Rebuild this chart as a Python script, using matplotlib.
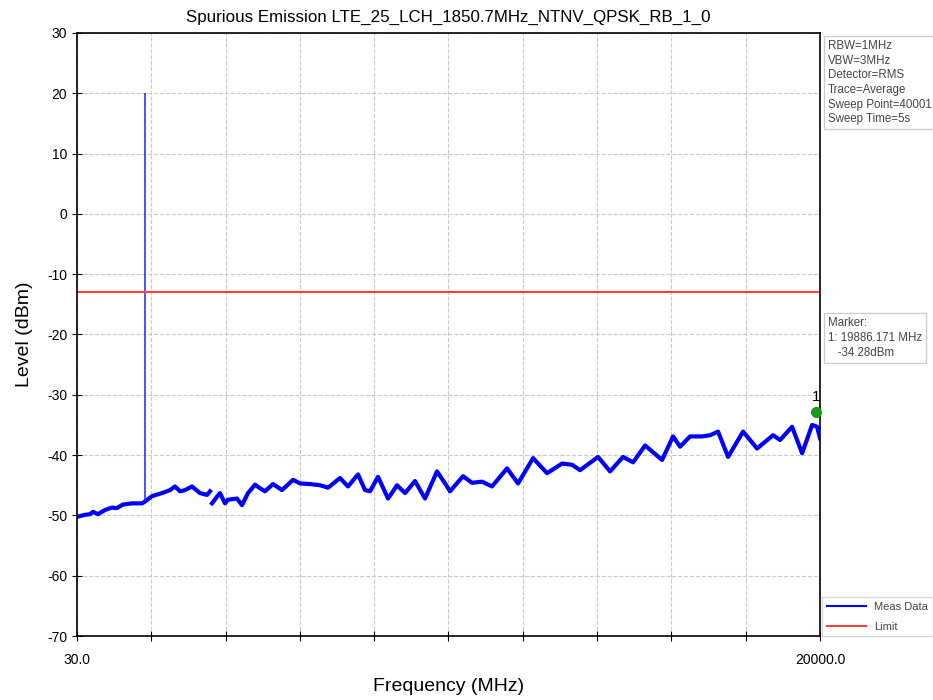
import numpy as np
import matplotlib
matplotlib.use('Agg')
import matplotlib.pyplot as plt
from matplotlib.lines import Line2D

plt.rcParams['font.family'] = ['Liberation Sans', 'DejaVu Sans']
plt.rcParams['axes.unicode_minus'] = False

# trace (MHz, dBm)
freq_mhz = [57, 245, 379, 460, 594, 783, 971, 1097, 1266, 1508, 1777, 1858,
            2046, 2315, 2530, 2664, 2799, 2933, 3121, 3336, 3524, 3605,
            np.nan,
            3659, 3793, 3874, 4008, 4089, 4331, 4465, 4626, 4815, 4949,
            5083, 5298, 5540, 5836, 6024, 6293, 6562, 6777, 7099, 7314,
            7583, 7771, 7906, 8121, 8390, 8632, 8847, 9115, 9384, 9707,
            9976, 10056, 10406, 10648, 10916, 11185, 11588, 11884, 12287, 12664,
            13067, 13336, 13551, 14035, 14357, 14706, 14975, 15298, 15755, 16050,
            16239, 16508, 16830, 17045, 17260, 17529, 17932, 18308, 18738, 18926,
            19249, 19518, 19787, 19921, 20000]
level_dbm = [-50.2, -49.9, -49.8, -49.4, -49.8, -49.1, -48.7, -48.8, -48.2, -48.0, -48.0, -47.7,
             -46.8, -46.3, -45.8, -45.2, -46.0, -45.8, -45.2, -46.3, -46.6, -46.0,
             np.nan,
             -48.0, -46.9, -46.3, -48.0, -47.4, -47.2, -48.3, -46.3, -44.9, -45.5,
             -46.0, -44.8, -45.8, -44.1, -44.7, -44.8, -45.0, -45.4, -43.8, -45.2,
             -43.2, -45.8, -46.0, -43.6, -47.2, -45.0, -46.3, -44.3, -47.2, -42.7,
             -45.2, -46.0, -43.5, -44.6, -44.4, -45.2, -42.2, -44.7, -40.5, -43.0,
             -41.4, -41.6, -42.5, -40.3, -42.7, -40.3, -41.2, -38.4, -40.8, -36.9,
             -38.6, -36.9, -36.9, -36.7, -36.1, -40.3, -36.1, -38.9, -36.7, -37.5,
             -35.3, -39.7, -35.0, -35.3, -37.2]

carrier_freq = 1850.7
carrier_peak = 20.0
carrier_floor = -47.8
limit_dbm = -13.0

marker_freq = 19886.171
marker_level = -34.28
marker_dot_level = -32.8

settings = ["RBW=1MHz", "VBW=3MHz", "Detector=RMS", "Trace=Average",
            "Sweep Point=40001", "Sweep Time=5s"]

f_start, f_stop = 30.0, 20000.0

fig = plt.figure(figsize=(9.33, 7.0), dpi=100)
ax = fig.add_axes([0.0825, 0.0914, 0.7964, 0.8615])

ax.plot(freq_mhz, level_dbm, color='blue', lw=3, solid_joinstyle='round')
ax.vlines(carrier_freq, carrier_floor, carrier_peak, color='#2020ff', lw=1.1)
ax.axhline(limit_dbm, color='#ff4040', lw=1.5)
ax.plot(marker_freq, marker_dot_level, 'o', color='#1a9a1a', ms=7, clip_on=False, zorder=5)
ax.text(marker_freq, marker_dot_level + 1.3, "1", ha='center', va='bottom', fontsize=11)

ax.set_xlim(f_start, f_stop)
ax.set_ylim(-70, 30)
xt = np.linspace(f_start, f_stop, 11)
ax.set_xticks(xt)
ax.set_xticklabels(["30.0"] + [""] * 9 + ["20000.0"])
ax.set_yticks(np.arange(-70, 31, 10))
ax.tick_params(axis='both', labelsize=10, direction='inout', length=7)
ax.tick_params(axis='x', pad=9)
ax.grid(True, ls='--', color='#c8c8c8', lw=0.8)
for s in ax.spines.values():
    s.set_linewidth(1.2)

ax.set_title("Spurious Emission LTE_25_LCH_1850.7MHz_NTNV_QPSK_RB_1_0", fontsize=12.2, pad=8)
ax.set_xlabel("Frequency (MHz)", fontsize=14, labelpad=8)
ax.set_ylabel("Level (dBm)", fontsize=14, labelpad=10)

box = dict(boxstyle='square,pad=0.35', fc='white', ec='#cccccc', lw=1)
fig.text(0.887, 0.943, "\n".join(settings), fontsize=8.3, va='top', ha='left',
         color='#444444', bbox=box, linespacing=1.3)
fig.text(0.887, 0.547, "Marker:\n1: %.3f MHz\n   %.2fdBm" % (marker_freq, marker_level),
         fontsize=8.3, va='top', ha='left', color='#444444', bbox=box, linespacing=1.3)

handles = [Line2D([], [], color='blue', lw=1.5), Line2D([], [], color='#ff4040', lw=1.5)]
leg = ax.legend(handles, ['Meas Data', 'Limit'], loc='lower left',
                bbox_to_anchor=(1.003, 0.0), fontsize=8, frameon=True, fancybox=False,
                edgecolor='#cccccc', handlelength=3.5, borderaxespad=0, labelspacing=0.9)
for t in leg.get_texts():
    t.set_color('#444444')

fig.savefig("out.png", dpi=100)
